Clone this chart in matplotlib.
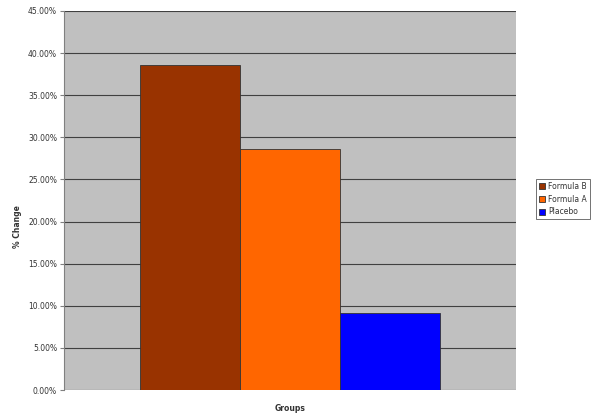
import matplotlib
matplotlib.use("Agg")
import matplotlib.pyplot as plt
from matplotlib.ticker import FuncFormatter, MultipleLocator

groups = ["Formula B", "Formula A", "Placebo"]
pct_change = [38.6, 28.6, 9.1]
colors = ["#993300", "#FF6600", "#0000FF"]

fig = plt.figure(figsize=(6.02, 4.2), dpi=100)
ax = fig.add_axes([64 / 602, 1 - 390 / 420, (516 - 64) / 602, (390 - 11) / 420])
ax.set_facecolor("#C0C0C0")

width = 100 / 452 * 1.0
x0 = -1.5 * width
for i, (g, v, c) in enumerate(zip(groups, pct_change, colors)):
    ax.bar(x0 + i * width, v, width=width, align="edge", color=c,
           edgecolor="#333333", linewidth=0.6, label=g, zorder=3)

ax.set_xlim(-0.5, 0.5)
ax.set_ylim(0, 45)
ax.yaxis.set_major_locator(MultipleLocator(5))
ax.yaxis.set_major_formatter(FuncFormatter(lambda v, p: f"{v:.2f}%"))
ax.grid(axis="y", color="#404040", linewidth=0.8, zorder=1)
ax.set_xticks([])
for s in ["top", "right", "bottom"]:
    ax.spines[s].set_visible(False)
ax.spines["left"].set_color("#808080")
ax.spines["left"].set_linewidth(0.8)
ax.tick_params(axis="y", labelsize=5.5, length=3, color="#808080",
               labelcolor="#333333", pad=2)

ax.set_xlabel("Groups", fontsize=5.5, fontweight="bold", color="#333333", labelpad=10)
ax.set_ylabel("% Change", fontsize=5.5, fontweight="bold", color="#333333", labelpad=2)
ax.yaxis.set_label_coords(-42 / 452, 0.43)

leg = ax.legend(loc="center left", bbox_to_anchor=(532 / 602, 1 - 199 / 420),
                bbox_transform=fig.transFigure, fontsize=5.5, frameon=True,
                fancybox=False, edgecolor="#333333", handlelength=0.8,
                handleheight=0.8, handletextpad=0.4, borderpad=0.4,
                labelspacing=0.5)
leg.get_frame().set_linewidth(0.6)
for t in leg.get_texts():
    t.set_color("#333333")

fig.savefig("out.png", dpi=100, facecolor="white")
